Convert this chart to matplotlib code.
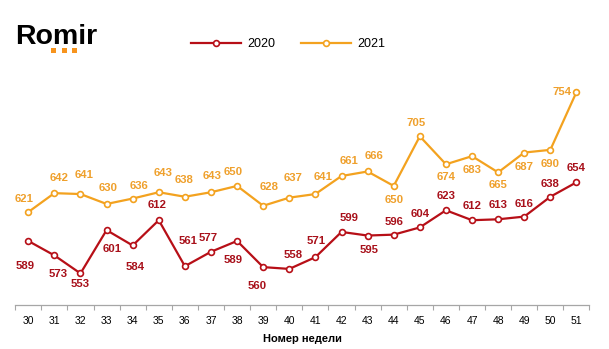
import matplotlib
matplotlib.use("Agg")
import matplotlib.pyplot as plt
from matplotlib.patches import Rectangle

plt.rcParams['font.family'] = ['Liberation Sans', 'DejaVu Sans']

weeks = [str(w) for w in range(30, 52)]
values_2020 = [589, 573, 553, 601, 584, 612, 561, 577, 589, 560, 558,
               571, 599, 595, 596, 604, 623, 612, 613, 616, 638, 654]
values_2021 = [621, 642, 641, 630, 636, 643, 638, 643, 650, 628, 637,
               641, 661, 666, 650, 705, 674, 683, 665, 687, 690, 754]
series_names = ["2020", "2021"]
x_title = "Номер недели"

# label placement (pixel offsets from point: dx right, dy up)
off_2020 = [(-3, -25), (4, -19), (0, -11), (6, -19), (3, -22), (-2, 15), (3, 25),
            (-3, 14), (-4, -19), (-6, -19), (4, 14), (1, 16), (8, 14), (1, -14),
            (0, 13), (0, 13), (0, 14), (0, 14), (0, 14), (0, 13), (0, 13), (0, 14)]
off_2021 = [(-4, 13), (5, 15), (4, 19), (2, 16), (6, 13), (4, 19), (-1, 17),
            (1, 16), (-4, 14), (6, 19), (4, 20), (8, 17), (8, 15), (6, 15),
            (0, -14), (-4, 13), (0, -13), (0, -14), (0, -13), (0, -14), (0, -14), (-14, 0)]

c2020 = "#B70F17"
c2021 = "#F3A21F"
lab2020 = "#A8101A"
lab2021 = "#EFA02C"

W, H = 609, 349
fig = plt.figure(figsize=(W / 100, H / 100), dpi=100)
left, right, bottom, top = 15.2, 589.5, 305, 60
ax = fig.add_axes([left / W, 1 - bottom / H, (right - left) / W, (bottom - top) / H])

x = list(range(len(weeks)))
l1, = ax.plot(x, values_2020, color=c2020, lw=1.6, marker='o', ms=4.2,
              mfc='white', mec=c2020, mew=1.2, label=series_names[0], zorder=3)
l2, = ax.plot(x, values_2021, color=c2021, lw=1.6, marker='o', ms=4.2,
              mfc='white', mec=c2021, mew=1.2, label=series_names[1], zorder=3)

for xi, v, (dx, dy) in zip(x, values_2020, off_2020):
    ax.annotate(str(v), (xi, v), xytext=(dx, dy), textcoords='offset pixels',
                ha='center', va='center', fontsize=8.2, fontweight='bold', color=lab2020)
for xi, v, (dx, dy) in zip(x, values_2021, off_2021):
    ax.annotate(str(v), (xi, v), xytext=(dx, dy), textcoords='offset pixels',
                ha='center', va='center', fontsize=8.2, fontweight='bold', color=lab2021)

ax.set_xlim(-0.5, len(weeks) - 0.5)
ax.set_ylim(518, 789.6)
for s in ['top', 'right', 'left']:
    ax.spines[s].set_visible(False)
ax.spines['bottom'].set_color('#A6A6A6')
ax.spines['bottom'].set_linewidth(0.9)
ax.set_yticks([])
ax.set_xticks(x)
ax.set_xticklabels(weeks, fontsize=7.5)
ax.tick_params(axis='x', which='major', length=0, pad=8)
ax.set_xticks([i - 0.5 for i in range(len(weeks) + 1)], minor=True)
ax.tick_params(axis='x', which='minor', length=3.5, color='#A6A6A6', width=0.8)
ax.set_xlabel(x_title, fontsize=8, fontweight='bold', labelpad=6)

fig.legend(handles=[l1, l2], loc='center', bbox_to_anchor=(288 / W, 1 - 44 / H),
           ncol=2, frameon=False, fontsize=9, handlelength=4.0, handletextpad=0.55,
           columnspacing=2.0, borderpad=0)

# Romir logo
fig.text(15 / W, 1 - 44 / H, "Romir", fontsize=20.5, fontweight='bold',
         color='black', ha='left', va='baseline')
for px in (51.5, 61.5, 71.5):
    fig.add_artist(Rectangle((px / W, 1 - 53 / H), 5 / W, 5 / H,
                             transform=fig.transFigure, color='#F7941D', lw=0))

fig.savefig("out.png", dpi=100)
